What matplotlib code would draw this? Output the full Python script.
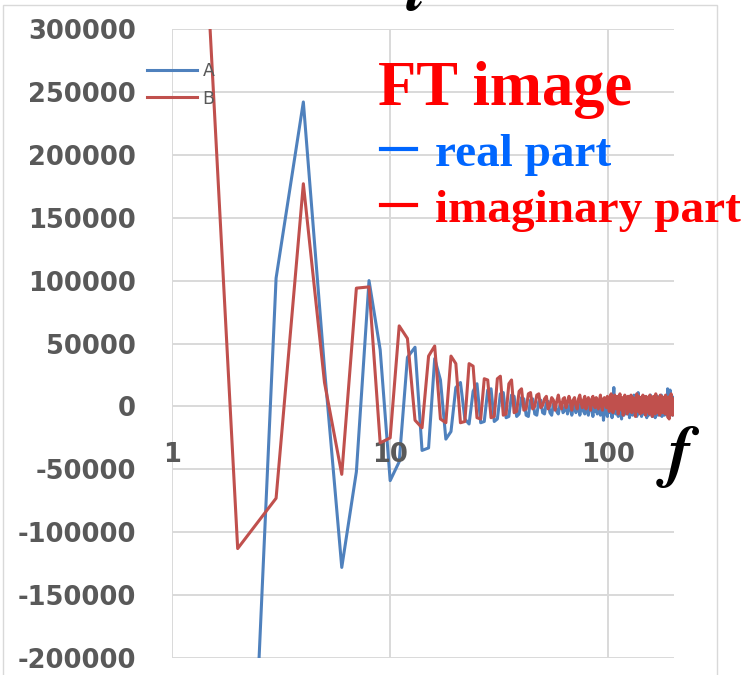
import matplotlib
matplotlib.use("Agg")
import matplotlib.pyplot as plt
from matplotlib.lines import Line2D
from matplotlib.patches import Rectangle

# Frequency samples
freq = list(range(1, 201))

# Real part (series A), in thousands
real_k = [
    -700, -580, 102, 242, 30, -128, -52, 100, 45, -59,
    -44, 39, 47, -35, -33, 38, 21, -26, -20, 15,
    19, -10, -14, 12, 18, -13, -12, 13, 14, -12,
    -10, 10, 11, -9, -8, 9, 8, -8, -6, 7,
    6, -7, -8, 5, 6, -6, -7, 4, 5, -5,
    -6, 3, 4, -5, -7, 2, 3, -4, -6, 1,
    3, -5, -3, 2, -6, -2, 4, -7, 0, 3,
    -5, -2, 2, -7, -1, 4, -4, -6, 3, -2,
    -7, 1, 5, -3, -8, 2, -4, 3, -6, -1,
    4, -7, -2, 3, -11, -3, 5, -4, -8, 2,
    6, -5, 1, -9, 4, 15, -3, -6, 7, -2,
    -8, 3, 6, -4, -10, 5, 1, -7, 4, -3,
    7, -6, -2, 8, -9, 3, -4, 6, -7, 2,
    9, -5, 4, -3, -8, 6, 11, -6, 2, -4,
    5, -8, 3, 7, -6, -2, 8, -5, 4, -9,
    6, 2, -7, 5, -3, 9, -6, 4, -8, 3,
    7, -5, 2, -9, 6, 3, -4, 8, -7, 1,
    5, -6, 3, -4, 9, -8, 2, 6, -5, 4,
    -7, 8, 3, -6, 5, -4, 14, -8, 2, 7,
    -5, 13, -6, 4, -3, 8, -7, 5, -4, 3,
]

# Imaginary part (series B), in thousands
imag_k = [
    870, -113, -73, 177, 19, -54, 94, 95, -29, -25,
    64, 54, -11, -17, 40, 48, -10, -13, 40, 34,
    -13, -12, 34, 32, -9, -10, 22, 21, -9, -8,
    22, 24, -7, -6, 18, 21, -5, -4, 12, 14,
    -3, -2, 10, 11, -2, 0, 9, 10, -1, 1,
    6, 8, -2, 1, 7, 5, -3, 4, 9, 2,
    -2, 6, 7, -1, 3, 8, 4, -3, 5, 7,
    1, -2, 6, 9, 3, -1, 5, 8, -2, 4,
    7, 2, -3, 6, 8, 1, -1, 7, 4, -2,
    5, 9, 0, -3, 6, 7, 2, -1, 8, 3,
    -4, 7, 10, 1, -5, 6, 9, -2, 3, 8,
    -6, 4, 10, 2, -3, 7, -7, 5, 9, -1,
    3, -6, 8, 6, -4, 2, 9, -5, 4, 7,
    -3, 6, -8, 5, 10, 0, -4, 8, 3, -6,
    7, 2, -5, 9, 4, -3, 6, -7, 8, 1,
    -4, 7, 3, -6, 9, 2, -2, 6, -8, 5,
    8, -3, 4, -6, 10, 1, -5, 7, 3, -4,
    6, -7, 9, 2, -3, 8, -5, 4, 7, -2,
    5, -6, 9, 1, -4, 7, 3, -9, 6, -10,
    8, -5, 4, 10, -3, 6, -7, 5, 2, 6,
]

real_part = [v * 1000 for v in real_k]
imag_part = [v * 1000 for v in imag_k]

y_ticks = [-200000, -150000, -100000, -50000, 0, 50000, 100000, 150000, 200000, 250000, 300000]
x_ticks = [1, 10, 100]
x_tick_labels = ["1", "10", "100"]

BLUE = "#4F81BD"
RED = "#C0504D"
GRID = "#D9D9D9"
LABEL = "#595959"

W, H = 754, 675
fig = plt.figure(figsize=(W / 100, H / 100), dpi=100)
ax = fig.add_axes([172 / W, 17 / H, 502 / W, 629 / H])

ax.plot(freq, real_part, color=BLUE, lw=2.2, label="A", zorder=3)
ax.plot(freq, imag_part, color=RED, lw=2.2, label="B", zorder=4)

ax.set_xscale("log")
ax.set_xlim(1, 200)
ax.set_ylim(-200000, 300000)
ax.set_xticks(x_ticks)
ax.set_xticklabels([])
ax.xaxis.set_minor_locator(matplotlib.ticker.NullLocator())
ax.set_yticks(y_ticks)
ax.set_yticklabels([str(v) for v in y_ticks])
ax.tick_params(axis="both", length=0)
ax.tick_params(axis="y", pad=26, labelsize=18.5, labelcolor=LABEL)
for lab in ax.get_yticklabels():
    lab.set_fontweight("bold")
ax.grid(True, color=GRID, lw=1.4)
ax.set_axisbelow(True)
for s in ax.spines.values():
    s.set_visible(False)

# category labels sit just under the zero line
for xv, txt in zip(x_ticks, x_tick_labels):
    ax.annotate(txt, xy=(xv, 0), xytext=(0, -35), textcoords="offset points",
                ha="center", va="center", fontsize=18.5, fontweight="bold",
                color=LABEL)

leg = ax.legend(loc="upper left", bbox_to_anchor=(147 / W, (H - 62) / H),
                bbox_transform=fig.transFigure, frameon=False,
                prop={"family": "DejaVu Sans", "size": 12.5},
                handlelength=2.9, handletextpad=0.3, labelspacing=0.55,
                borderpad=0, borderaxespad=0)
for t in leg.get_texts():
    t.set_color(LABEL)

# annotation block
serif_b = dict(family="Liberation Serif", fontweight="bold")
fig.text(378 / W, (H - 105) / H, "FT image", color="#FF0000", fontsize=45,
         va="baseline", ha="left", **serif_b)
fig.text(435 / W, (H - 166) / H, "real part", color="#0066FF", fontsize=34,
         va="baseline", ha="left", **serif_b)
fig.text(435 / W, (H - 222) / H, "imaginary part", color="#FF0000", fontsize=34,
         va="baseline", ha="left", **serif_b)
fig.add_artist(Line2D([381 / W, 416 / W], [(H - 149) / H] * 2, color="#0066FF",
                      lw=3, transform=fig.transFigure))
fig.add_artist(Line2D([381 / W, 416 / W], [(H - 205) / H] * 2, color="#FF0000",
                      lw=3, transform=fig.transFigure))

# axis symbols in bold italic serif
fig.text(678 / W, (H - 474) / H, r"$\mathbfit{f}$", color="black", fontsize=50,
         ha="center", va="baseline", math_fontfamily="stix")
fig.text(417 / W, (H - 10) / H, r"$\mathbfit{t}$", color="black", fontsize=48,
         ha="center", va="baseline", math_fontfamily="stix")

# chart border
fig.add_artist(Rectangle((3 / W, -0.05), 714 / W, (H - 5) / H + 0.05,
                         transform=fig.transFigure, fill=False,
                         edgecolor=GRID, lw=1))

fig.savefig("out.png", dpi=100)
